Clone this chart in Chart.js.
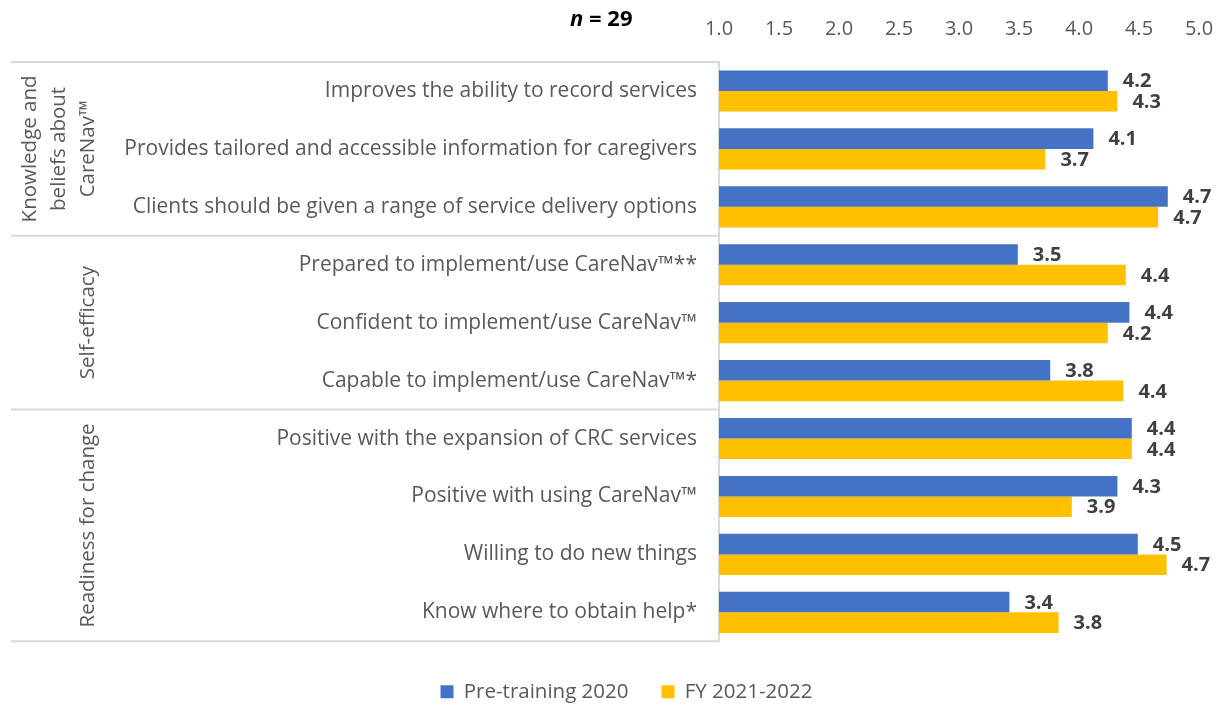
<!DOCTYPE html>
<html>
<head>
<meta charset="utf-8">
<script src="https://cdn.jsdelivr.net/npm/chart.js@4.4.1/dist/chart.umd.min.js"></script>
<style>
  html, body { margin: 0; padding: 0; background: #fff; overflow: hidden; }
</style>
</head>
<body>
<canvas id="chart" width="1224" height="706"></canvas>
<script>
// ---- data ----
const categories = [
  "Improves the ability to record services",
  "Provides tailored and accessible information for caregivers",
  "Clients should be given a range of service delivery options",
  "Prepared to implement/use CareNav™**",
  "Confident to implement/use CareNav™",
  "Capable to implement/use CareNav™*",
  "Positive with the expansion of CRC services",
  "Positive with using CareNav™",
  "Willing to do new things",
  "Know where to obtain help*"
];
const groupNames = [
  ["Knowledge and", "beliefs about", "CareNav™"],
  ["Self-efficacy"],
  ["Readiness for change"]
];
const groupSizes = [3, 3, 4];
const xTicks = [1.0, 1.5, 2.0, 2.5, 3.0, 3.5, 4.0, 4.5, 5.0];
const pre2020 = [4.24, 4.12, 4.74, 3.49, 4.42, 3.76, 4.44, 4.32, 4.49, 3.42];
const fy2122 = [4.32, 3.72, 4.66, 4.39, 4.24, 4.37, 4.44, 3.94, 4.73, 3.83];
const sampleSize = 29;

const FONT = "'Open Sans', sans-serif";
const GRAY = "#595959";
const LINE = "#d9d9d9";

// group labels + separator lines on the left, n = 29 on top
const groupPlugin = {
  id: "groups",
  afterLayout(chart) {
    // nudge the legend a bit right, like the original
    if (chart.legend) chart.legend.left += 54;
  },
  afterDraw(chart) {
    const ctx = chart.ctx;
    const y = chart.scales.y;
    const area = chart.chartArea;
    ctx.save();
    ctx.strokeStyle = LINE;
    ctx.lineWidth = 2;
    ctx.font = "20.5px " + FONT;
    ctx.fillStyle = GRAY;
    ctx.textAlign = "center";
    ctx.textBaseline = "middle";

    let start = 0;
    const edges = [y.getPixelForValue(-0.5)];
    groupSizes.forEach((n, g) => {
      const top = y.getPixelForValue(start - 0.5);
      const bottom = y.getPixelForValue(start + n - 0.5);
      edges.push(bottom);
      const lines = groupNames[g];
      const mid = (top + bottom) / 2;
      lines.forEach((txt, k) => {
        const x = 88 - (lines.length - 1 - k) * 29;
        ctx.save();
        ctx.translate(x, mid);
        ctx.rotate(-Math.PI / 2);
        ctx.fillText(txt, 0, 0);
        ctx.restore();
      });
      start += n;
    });
    edges.forEach(e => {
      ctx.beginPath();
      ctx.moveTo(11, e);
      ctx.lineTo(area.left - 1, e);
      ctx.stroke();
    });

    ctx.fillStyle = "#000";
    ctx.textAlign = "left";
    ctx.font = "italic bold 22px " + FONT;
    ctx.fillText("n", 570, 20);
    const w = ctx.measureText("n").width;
    ctx.font = "bold 22px " + FONT;
    ctx.fillText(" = " + sampleSize, 570 + w, 20);
    ctx.restore();
  }
};

// value labels at bar ends
const valuePlugin = {
  id: "values",
  afterDatasetsDraw(chart) {
    const ctx = chart.ctx;
    ctx.save();
    ctx.font = "bold 20px " + FONT;
    ctx.fillStyle = "#404040";
    ctx.textAlign = "left";
    ctx.textBaseline = "middle";
    chart.data.datasets.forEach((ds, i) => {
      chart.getDatasetMeta(i).data.forEach((bar, j) => {
        ctx.fillText(ds.data[j].toFixed(1), bar.x + 15, bar.y + 1);
      });
    });
    ctx.restore();
  }
};

new Chart(document.getElementById("chart"), {
  type: "bar",
  data: {
    labels: categories,
    datasets: [
      { label: "Pre-training 2020", data: pre2020, backgroundColor: "#4472C4" },
      { label: "FY 2021-2022", data: fy2122, backgroundColor: "#FFC000" }
    ]
  },
  options: {
    indexAxis: "y",
    responsive: false,
    animation: false,
    layout: { padding: { top: 0, right: 25, bottom: -6, left: 0 } },
    datasets: {
      bar: { categoryPercentage: 0.71, barPercentage: 1.0, borderWidth: 0 }
    },
    scales: {
      x: {
        position: "top",
        min: 1,
        max: 5,
        grid: { display: false, drawTicks: false },
        border: { display: false },
        afterBuildTicks: s => { s.ticks = xTicks.map(v => ({ value: v })); },
        afterFit: s => { s.height = 62; s.paddingLeft = 0; s.paddingRight = 0; },
        ticks: {
          padding: 21,
          color: GRAY,
          font: { family: FONT, size: 20 },
          callback: v => Number(v).toFixed(1)
        }
      },
      y: {
        grid: { display: false, drawTicks: false },
        border: { display: true, color: LINE, width: 2 },
        afterFit: s => { s.width = 719; },
        ticks: {
          padding: 22,
          color: GRAY,
          font: { family: FONT, size: 21 }
        }
      }
    },
    plugins: {
      legend: {
        position: "bottom",
        title: { display: true, text: "", font: { size: 1 }, padding: { top: 6, bottom: 0 } },
        labels: {
          boxWidth: 13,
          boxHeight: 13,
          padding: 33,
          color: GRAY,
          font: { family: FONT, size: 20.5 }
        }
      },
      tooltip: { enabled: false }
    }
  },
  plugins: [groupPlugin, valuePlugin]
});
</script>
</body>
</html>
